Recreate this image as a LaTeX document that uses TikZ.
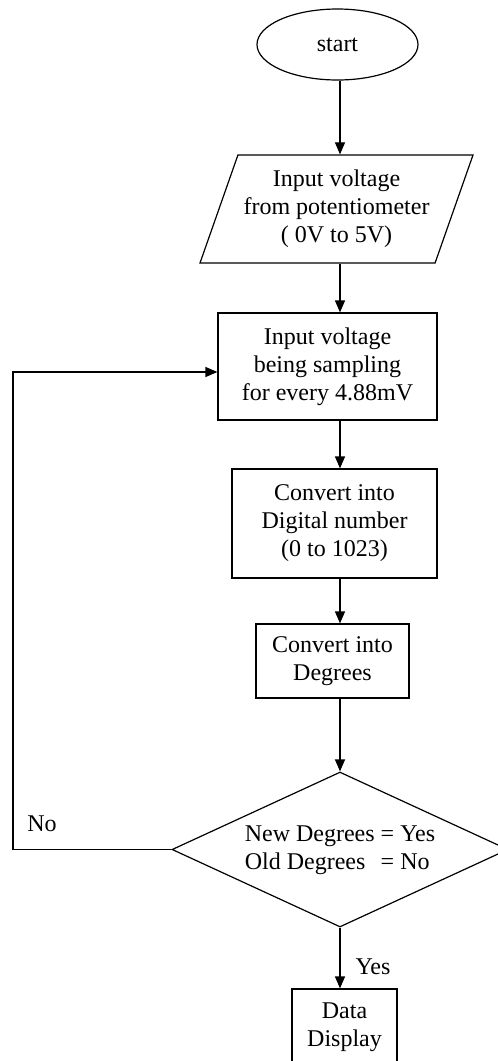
\documentclass[tikz,border=0pt]{standalone}
\usepackage{fontspec}
\setmainfont{Liberation Serif}
\usetikzlibrary{shapes.geometric,arrows.meta}

\begin{document}
\begin{tikzpicture}[x=0.5pt,y=-0.5pt,line width=0.6pt,>={Triangle[length=6pt,width=5pt]}]
					\useasboundingbox (0,0) rectangle (498,1061);
					\tikzstyle{every node}=[font=\fontsize{12}{14}\selectfont,align=center,inner sep=0pt];
					\tikzstyle{flowbox}=[draw,rectangle];
					\coordinate (spine) at (340,0);
					\coordinate (loop) at (13,372);
						\path (337.5,44.5) node[draw,ellipse,minimum width=80.5pt,minimum height=35.5pt] (start) {start};
						\path (336.5,209) node[draw,trapezium,trapezium left angle=64,trapezium right angle=116,trapezium stretches body,minimum width=136.5pt,minimum height=54pt] (input) {Input voltage\\from potentiometer\\( 0V to 5V)};
						\path (327.5,366.5) node[flowbox,minimum width=109.5pt,minimum height=53.5pt] (sample) {Input voltage\\being sampling\\for every 4.88mV};
						\path (334.5,523.5) node[flowbox,minimum width=102.5pt,minimum height=54.5pt] (digit) {Convert into\\Digital number\\(0 to 1023)};
						\path (332.5,661) node[flowbox,minimum width=76.5pt,minimum height=37pt] (degree) {Convert into\\Degrees};
						\path (340,849.5) node[draw,diamond,aspect=2.17,minimum width=168pt,minimum height=77.5pt] (check) {\begin{tabular}{@{}l@{ }l@{}}New Degrees&= Yes\\Old Degrees&= No\end{tabular}};
						\path (344.5,1027.5) node[flowbox,minimum width=52.5pt,minimum height=38.5pt] (display) {Data\\Display};
						\path (42,824) node (no) {No};
						\path (373,967) node (yes) {Yes};
						\draw[->] (start.south -| spine) -- (input.north -| spine);
						\draw[->] (input.south -| spine) -- (sample.north -| spine);
						\draw[->] (sample.south -| spine) -- (digit.north -| spine);
						\draw[->] (digit.south -| spine) -- (degree.north -| spine);
						\draw[->] (degree.south -| spine) -- (check.north);
						\draw[->] (check.south) -- (display.north -| spine);
						\draw[->] (check.west) -- (check.west -| loop) -- (loop) -- (loop -| sample.west);
					\end{tikzpicture}
\end{document}
